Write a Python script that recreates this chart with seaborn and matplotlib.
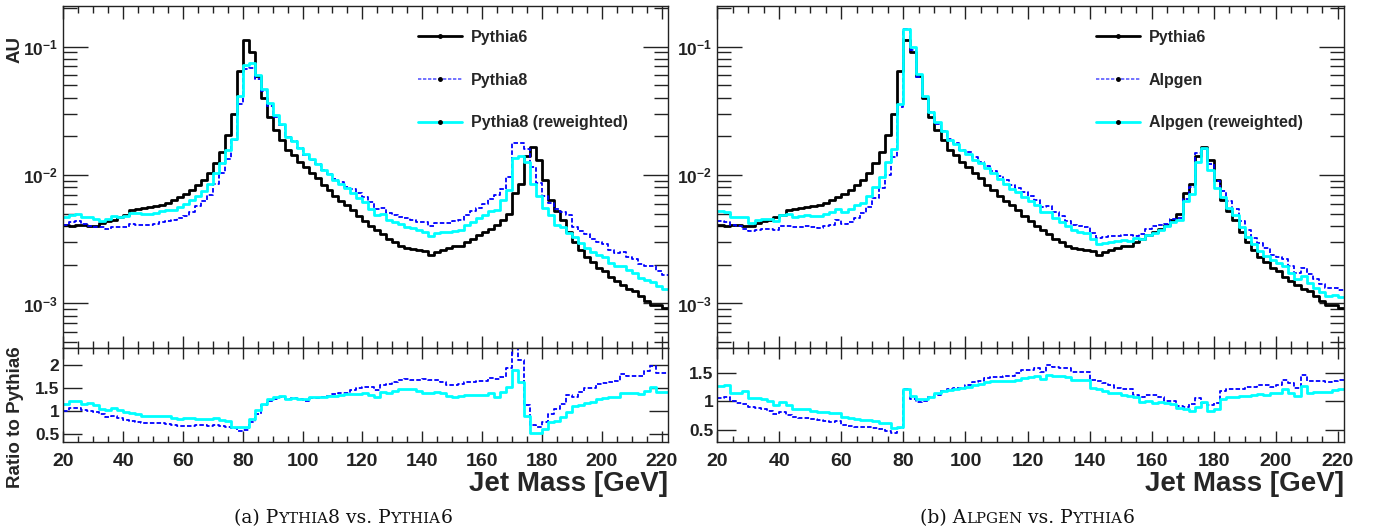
import numpy as np
import pandas as pd
import matplotlib
matplotlib.use("Agg")
import matplotlib.pyplot as plt
import seaborn as sns
from matplotlib.lines import Line2D
from matplotlib.ticker import MultipleLocator, FixedLocator, FuncFormatter, LogLocator, NullFormatter

# ---------------- data (2 GeV bins, 20-222 GeV) ----------------
bin_lo, bin_hi, bin_w = 20, 222, 2
bin_centers = np.arange(bin_lo + 1, bin_hi, bin_w)

pythia6 = [0.0041, 0.0040, 0.0041, 0.0041, 0.0040, 0.0040, 0.0042, 0.0044, 0.0045, 0.0047,
           0.0049, 0.0053, 0.0054, 0.0055, 0.0056, 0.0057, 0.0058, 0.0061, 0.0064, 0.0068,
           0.0071, 0.0076, 0.0083, 0.0091, 0.0103, 0.0123, 0.0152, 0.0205, 0.0300, 0.0640,
           0.113, 0.090, 0.059, 0.040, 0.0285, 0.0224, 0.0188, 0.0157, 0.0143, 0.0127,
           0.0116, 0.0103, 0.0094, 0.0084, 0.0076, 0.0069, 0.0063, 0.0058, 0.0053, 0.0048,
           0.0044, 0.0040, 0.0037, 0.0035, 0.0032, 0.0030, 0.0028, 0.0027, 0.00265, 0.0026,
           0.00255, 0.0024, 0.0025, 0.0026, 0.0027, 0.0028, 0.0028, 0.0030, 0.0032, 0.0034,
           0.0036, 0.0038, 0.0041, 0.0045, 0.0050, 0.0072, 0.0085, 0.0140, 0.0164, 0.0131,
           0.0091, 0.0064, 0.0052, 0.0045, 0.0036, 0.0030, 0.0026, 0.0023, 0.0021, 0.0019,
           0.0018, 0.0016, 0.0015, 0.0014, 0.0013, 0.00125, 0.00115, 0.00105, 0.00098, 0.00097,
           0.00092]

pythia8 = [0.00410, 0.00428, 0.00439, 0.00414, 0.00400, 0.00392, 0.00391, 0.00383, 0.00396, 0.00395,
           0.00397, 0.00419, 0.00410, 0.00407, 0.00409, 0.00416, 0.00429, 0.00439, 0.00448, 0.00462,
           0.00476, 0.00517, 0.00573, 0.00628, 0.00700, 0.00849, 0.01034, 0.01333, 0.0186, 0.0358,
           0.0667, 0.0684, 0.0555, 0.0452, 0.0345, 0.0282, 0.0243, 0.0199, 0.0184, 0.0161,
           0.0142, 0.0131, 0.0121, 0.0109, 0.0101, 0.00938, 0.00876, 0.00806, 0.00774, 0.00720,
           0.00669, 0.00612, 0.00540, 0.00550, 0.00509, 0.00492, 0.00470, 0.00459, 0.00445, 0.00434,
           0.00434, 0.00403, 0.00420, 0.00424, 0.00421, 0.00437, 0.00445, 0.00486, 0.00522, 0.00558,
           0.00598, 0.00654, 0.00697, 0.00779, 0.00965, 0.01764, 0.01785, 0.01582, 0.01148, 0.00865,
           0.00692, 0.00602, 0.00546, 0.00513, 0.00486, 0.00393, 0.00369, 0.00345, 0.00317, 0.00302,
           0.00290, 0.00261, 0.00249, 0.00253, 0.00230, 0.00220, 0.00202, 0.00197, 0.00194, 0.00178,
           0.00168]

pythia8_rw = [0.00472, 0.00484, 0.00496, 0.00472, 0.00472, 0.00452, 0.00441, 0.00453, 0.00482, 0.00475,
              0.00480, 0.00509, 0.00502, 0.00495, 0.00498, 0.00507, 0.00522, 0.00537, 0.00538, 0.00564,
              0.00596, 0.00638, 0.00689, 0.00755, 0.00855, 0.01046, 0.01231, 0.01579, 0.0192, 0.0410,
              0.0723, 0.0747, 0.0596, 0.0464, 0.0362, 0.0293, 0.0250, 0.0199, 0.0184, 0.0161,
              0.0147, 0.0134, 0.0122, 0.0110, 0.0101, 0.00918, 0.00851, 0.00789, 0.00726, 0.00658,
              0.00612, 0.00540, 0.00485, 0.00497, 0.00445, 0.00432, 0.00412, 0.00397, 0.00390, 0.00374,
              0.00357, 0.00336, 0.00355, 0.00361, 0.00359, 0.00367, 0.00372, 0.00405, 0.00432, 0.00459,
              0.00486, 0.00528, 0.00537, 0.00635, 0.00765, 0.01368, 0.01394, 0.01260, 0.00853, 0.00681,
              0.00555, 0.00486, 0.00411, 0.00392, 0.00353, 0.00330, 0.00294, 0.00271, 0.00252, 0.00238,
              0.00229, 0.00208, 0.00195, 0.00196, 0.00181, 0.00174, 0.00158, 0.00151, 0.00148, 0.00137,
              0.00130]

alpgen = [0.00435, 0.00432, 0.00410, 0.00398, 0.00380, 0.00364, 0.00370, 0.00383, 0.00378, 0.00371,
          0.00402, 0.00403, 0.00394, 0.00396, 0.00398, 0.00393, 0.00389, 0.00403, 0.00410, 0.00449,
          0.00419, 0.00433, 0.00465, 0.00510, 0.00567, 0.00664, 0.00790, 0.01005, 0.0138, 0.0339,
          0.1367, 0.0936, 0.0584, 0.0404, 0.0308, 0.0251, 0.0222, 0.0190, 0.0176, 0.0157,
          0.0150, 0.0137, 0.0127, 0.0118, 0.0108, 0.00980, 0.00907, 0.00841, 0.00790, 0.00739,
          0.00682, 0.00636, 0.00562, 0.00571, 0.00512, 0.00477, 0.00442, 0.00410, 0.00403, 0.00395,
          0.00352, 0.00326, 0.00330, 0.00333, 0.00335, 0.00339, 0.00339, 0.00333, 0.00346, 0.00381,
          0.00400, 0.00407, 0.00414, 0.00455, 0.00460, 0.00648, 0.00808, 0.01484, 0.01607, 0.01218,
          0.00892, 0.00755, 0.00629, 0.00545, 0.00439, 0.00375, 0.00325, 0.00294, 0.00269, 0.00238,
          0.00232, 0.00221, 0.00197, 0.00174, 0.00189, 0.00169, 0.00155, 0.00142, 0.00132, 0.00132,
          0.00127]

alpgen_rw = [0.00521, 0.00512, 0.00467, 0.00467, 0.00472, 0.00424, 0.00445, 0.00458, 0.00455, 0.00437,
             0.00485, 0.00493, 0.00470, 0.00479, 0.00487, 0.00479, 0.00476, 0.00500, 0.00512, 0.00544,
             0.00518, 0.00540, 0.00581, 0.00610, 0.00690, 0.00812, 0.00958, 0.01271, 0.0159, 0.0358,
             0.1367, 0.0990, 0.0614, 0.0416, 0.0308, 0.0258, 0.0222, 0.0188, 0.0174, 0.0157,
             0.0145, 0.0132, 0.0123, 0.0113, 0.0103, 0.00932, 0.00851, 0.00783, 0.00731, 0.00677,
             0.00625, 0.00580, 0.00514, 0.00511, 0.00464, 0.00432, 0.00398, 0.00373, 0.00363, 0.00356,
             0.00316, 0.00290, 0.00295, 0.00299, 0.00308, 0.00311, 0.00308, 0.00321, 0.00317, 0.00343,
             0.00353, 0.00376, 0.00398, 0.00428, 0.00445, 0.00626, 0.00714, 0.01274, 0.01624, 0.01100,
             0.00792, 0.00672, 0.00556, 0.00486, 0.00396, 0.00330, 0.00289, 0.00258, 0.00235, 0.00219,
             0.00207, 0.00194, 0.00173, 0.00154, 0.00165, 0.00144, 0.00133, 0.00122, 0.00114, 0.00117,
             0.00112]

x_ticks = [20, 40, 60, 80, 100, 120, 140, 160, 180, 200, 220]
main_yticks = [1e-3, 1e-2, 1e-1]
ratio_yticks_a = [0.5, 1.0, 1.5, 2.0]
ratio_yticks_b = [0.5, 1.0, 1.5]

# ---------------- style ----------------
sns.set_theme(style="ticks")
plt.rcParams["font.family"] = ["Liberation Sans", "DejaVu Sans"]
plt.rcParams["font.weight"] = "bold"
plt.rcParams["mathtext.fontset"] = "custom"
plt.rcParams["mathtext.bf"] = "Liberation Sans:bold"
plt.rcParams["mathtext.rm"] = "Liberation Sans:bold"
plt.rcParams["axes.linewidth"] = 1.0
plt.rcParams["axes.edgecolor"] = "#222222"

W, H = 1375, 529
fig = plt.figure(figsize=(W / 100, H / 100), dpi=100)
fig.patch.set_facecolor("white")


def fx(px):
    return px / W


def fy(py):
    return 1 - py / H


top, mid, bot = 6.0, 348.0, 441.7
panels = [(63.3, 667.5), (717.3, 1344.0)]

BLUE = "#0000ff"
CYAN = "#00ffff"


def step(ax, values, **kw):
    df = pd.DataFrame({"mass": bin_centers, "w": np.asarray(values, dtype=float)})
    sns.histplot(data=df, x="mass", weights="w", binwidth=bin_w, binrange=(bin_lo, bin_hi),
                 element="step", fill=False, ax=ax, **kw)


def style_main(ax):
    ax.set_yscale("log")
    ax.set_xlim(20, 222)
    ax.set_ylim(4.5e-4, 0.207)
    ax.xaxis.set_major_locator(FixedLocator(x_ticks))
    ax.xaxis.set_minor_locator(MultipleLocator(5))
    ax.yaxis.set_major_locator(FixedLocator(main_yticks))
    ax.yaxis.set_major_formatter(FuncFormatter(
        lambda v, p: r"$\mathbf{10^{%d}}$" % int(round(np.log10(v)))))
    ax.yaxis.set_minor_locator(LogLocator(base=10, subs=np.arange(2, 10)))
    ax.yaxis.set_minor_formatter(NullFormatter())
    ax.tick_params(which="both", direction="in", top=True, right=True,
                   labelbottom=False, colors="#222222")
    ax.tick_params(axis="x", which="major", length=9, width=1)
    ax.tick_params(axis="x", which="minor", length=5, width=1)
    ax.tick_params(axis="y", which="major", length=18, width=1, labelsize=12.5, pad=4)
    ax.tick_params(axis="y", which="minor", length=10, width=1)
    ax.set_xlabel("")
    ax.set_ylabel("")


def style_ratio(ax, yl, yt):
    ax.set_xlim(20, 222)
    ax.set_ylim(*yl)
    ax.xaxis.set_major_locator(FixedLocator(x_ticks))
    ax.xaxis.set_minor_locator(MultipleLocator(5))
    ax.yaxis.set_major_locator(FixedLocator(yt))
    ax.yaxis.set_major_formatter(FuncFormatter(lambda v, p: ("%g" % v)))
    ax.tick_params(which="both", direction="in", top=True, right=True, colors="#222222")
    ax.tick_params(axis="x", which="major", length=8, width=1, labelsize=14, pad=8)
    ax.tick_params(axis="x", which="minor", length=4, width=1)
    ax.tick_params(axis="y", which="major", length=14, width=1, labelsize=12.5, pad=3)
    ax.set_ylabel("")
    ax.set_xlabel("Jet Mass [GeV]", fontsize=20, fontweight="bold", loc="right", labelpad=1)


series_sets = [
    (pythia8, pythia8_rw, ["Pythia6", "Pythia8", "Pythia8 (reweighted)"],
     (0.33, 2.37), ratio_yticks_a),
    (alpgen, alpgen_rw, ["Pythia6", "Alpgen", "Alpgen (reweighted)"],
     (0.30, 1.93), ratio_yticks_b),
]

DASH = (0, (2.5, 1.2))

for i, ((x0, x1), (alt, alt_rw, labels, rlim, rticks)) in enumerate(zip(panels, series_sets)):
    axm = fig.add_axes([fx(x0), fy(mid), fx(x1 - x0), (mid - top) / H])
    axr = fig.add_axes([fx(x0), fy(bot), fx(x1 - x0), (bot - mid) / H])

    step(axm, pythia6, color="black", linewidth=2.0)
    step(axm, alt, color=BLUE, linewidth=1.3, linestyle=DASH)
    step(axm, alt_rw, color=CYAN, linewidth=2.0)
    style_main(axm)

    ratio_alt = np.array(alt) / np.array(pythia6)
    ratio_rw = np.array(alt_rw) / np.array(pythia6)
    step(axr, ratio_alt, color=BLUE, linewidth=1.3, linestyle=DASH)
    step(axr, ratio_rw, color=CYAN, linewidth=2.0)
    style_ratio(axr, rlim, rticks)

    handles = [
        Line2D([], [], color="black", lw=2.0, marker="o", ms=2.5, mfc="black", mec="black"),
        Line2D([], [], color="#5a5aff", lw=1.2, ls=(0, (2, 1)), marker="o", ms=2.5,
               mfc="black", mec="black"),
        Line2D([], [], color=CYAN, lw=2.0, marker="o", ms=2.5, mfc="black", mec="black"),
    ]
    lx = 0.587 if i == 0 else 0.604
    axm.legend(handles, labels, loc="upper left", bbox_to_anchor=(lx, 0.930),
               frameon=False, handlelength=2.75, handletextpad=0.55, labelspacing=1.73,
               borderpad=0, borderaxespad=0, numpoints=1,
               prop={"family": "Liberation Sans", "weight": "bold", "size": 11.5})

    if i == 0:
        axm.set_ylabel("AU", fontsize=13.5, fontweight="bold")
        axm.yaxis.set_label_coords(-0.066, 0.874)
        axr.set_ylabel("Ratio to Pythia6", fontsize=13.5, fontweight="bold")
        axr.yaxis.set_label_coords(-0.0645, 0.264)

# ---------------- captions with small caps ----------------
renderer = fig.canvas.get_renderer()


def caption(xc_px, base_px, pieces, size):
    texts = []
    for s, sc in pieces:
        t = fig.text(0, fy(base_px), s, fontsize=size * sc, family="DejaVu Serif",
                     fontweight="normal", va="baseline", ha="left", color="#111111")
        texts.append(t)
    widths = [t.get_window_extent(renderer).width for t in texts]
    start = xc_px - sum(widths) / 2
    for t, w in zip(texts, widths):
        t.set_x(fx(start))
        start += w


cap_size = 13.5
caption(343, 523, [("(a) P", 1), ("YTHIA", 0.8), ("8 vs. P", 1), ("YTHIA", 0.8), ("6", 1)], cap_size)
caption(1027, 523, [("(b) A", 1), ("LPGEN", 0.8), (" vs. P", 1), ("YTHIA", 0.8), ("6", 1)], cap_size)

fig.savefig("out.png", dpi=100, facecolor="white")
